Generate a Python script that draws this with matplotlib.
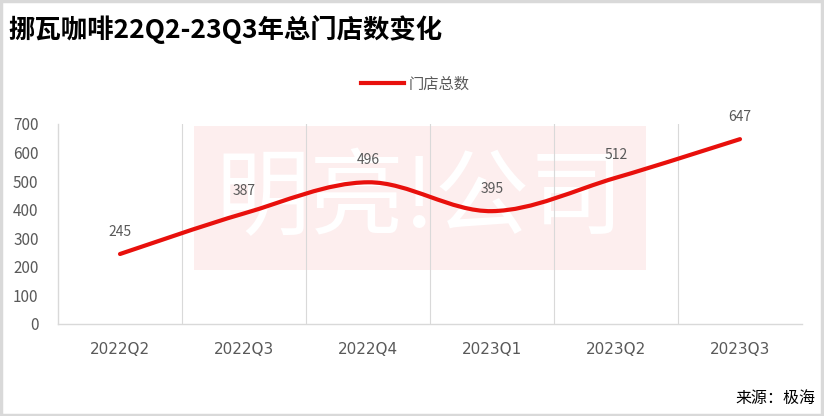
import matplotlib.pyplot as plt
from matplotlib.path import Path
from matplotlib.patches import PathPatch, Rectangle
from matplotlib.lines import Line2D

plt.rcParams['font.family'] = ['Noto Sans CJK SC', 'DejaVu Sans']

quarters = ['2022Q2', '2022Q3', '2022Q4', '2023Q1', '2023Q2', '2023Q3']
stores = [245, 387, 496, 395, 512, 647]
title = '挪瓦咖啡22Q2-23Q3年总门店数变化'
series_name = '门店总数'
source = '来源：极海'

RED = '#e8100c'
GREY = '#595959'


def smooth_path(xs, ys, t=1 / 6):
    # Excel-like smoothed line: Catmull-Rom to cubic Bezier
    verts = [(xs[0], ys[0])]
    codes = [Path.MOVETO]
    n = len(xs)
    for i in range(n - 1):
        x0, y0 = (xs[i - 1], ys[i - 1]) if i > 0 else (xs[i], ys[i])
        x1, y1 = xs[i], ys[i]
        x2, y2 = xs[i + 1], ys[i + 1]
        x3, y3 = (xs[i + 2], ys[i + 2]) if i + 2 < n else (x2, y2)
        c1 = (x1 + (x2 - x0) * t, y1 + (y2 - y0) * t)
        c2 = (x2 - (x3 - x1) * t, y2 - (y3 - y1) * t)
        verts += [c1, c2, (x2, y2)]
        codes += [Path.CURVE4] * 3
    return Path(verts, codes)


fig = plt.figure(figsize=(8.24, 4.16), dpi=100)
ax = fig.add_axes([58 / 824, 1 - 324 / 416, 744 / 824, 200 / 416])

# figure border
fig.patches.append(Rectangle((0.001, 0.002), 0.997, 0.995, transform=fig.transFigure,
                             fill=False, edgecolor='#d9d9d9', linewidth=2.5))

# watermark
ax.add_patch(Rectangle((136 / 744, 54 / 200), 452 / 744, 144 / 200, transform=ax.transAxes,
                       facecolor='#fdeeee', edgecolor='none', zorder=0))
ax.text(0.4866, 0.62, '明亮!公司', transform=ax.transAxes, ha='center', va='center',
        fontsize=68, color='white', fontweight='light', zorder=1)

xs = list(range(len(quarters)))
ax.add_patch(PathPatch(smooth_path(xs, stores), facecolor='none', edgecolor=RED,
                       linewidth=3, capstyle='round', zorder=3))
for x, v in zip(xs, stores):
    ax.annotate(str(v), (x, v), xytext=(0, 16), textcoords='offset points',
                ha='center', va='center', fontsize=10, color=GREY, zorder=4)

ax.set_xlim(-0.5, len(quarters) - 0.5)
ax.set_ylim(0, 700)
ax.set_yticks(range(0, 701, 100))
ax.set_xticks(xs)
ax.set_xticklabels(quarters)
ax.set_xticks([i + 0.5 for i in range(len(quarters) - 1)], minor=True)
ax.grid(True, which='minor', axis='x', color='#d9d9d9', linewidth=0.8)
ax.tick_params(which='both', length=0)
ax.tick_params(axis='y', labelsize=11, labelcolor=GREY, pad=14)
ax.tick_params(axis='x', labelcolor=GREY, pad=13)
for lab in ax.get_xticklabels():
    lab.set_fontproperties({'family': 'DejaVu Sans', 'size': 11})
for s in ['top', 'right']:
    ax.spines[s].set_visible(False)
for s in ['left', 'bottom']:
    ax.spines[s].set_color('#d9d9d9')
    ax.spines[s].set_linewidth(1)

fig.text(8 / 824, 1 - 29 / 416, title, ha='left', va='center', fontsize=19,
         fontweight='bold', color='black')
fig.legend(handles=[Line2D([], [], color=RED, linewidth=3)], labels=[series_name],
           loc='center', bbox_to_anchor=(415 / 824, 1 - 84 / 416), frameon=False,
           fontsize=11, labelcolor=GREY, handlelength=2.8, handletextpad=0.3)
fig.text(815 / 824, 1 - 398 / 416, source, ha='right', va='center', fontsize=11.5,
         color='black')

fig.savefig('out.png', dpi=100)
